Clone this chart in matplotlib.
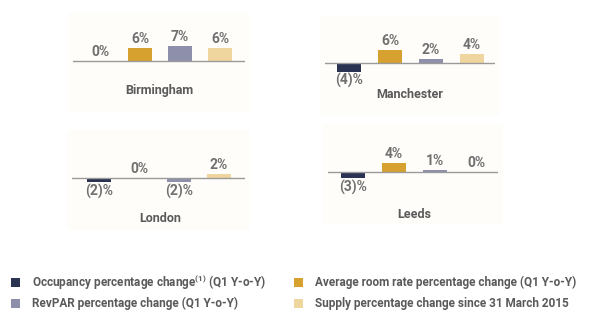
import matplotlib
matplotlib.use("Agg")
import matplotlib.pyplot as plt
from matplotlib.patches import Rectangle

plt.rcParams['font.family'] = ['Roboto', 'DejaVu Sans']

cities = ["Birmingham", "Manchester", "London", "Leeds"]
occupancy = [0, -4, -2, -3]
avg_rate = [6, 6, 0, 4]
revpar = [7, 2, -2, 1]
supply = [6, 4, 2, 0]
series_names = ["Occupancy percentage change$^{\\mathregular{(1)}}$ (Q1 Y-o-Y)",
                "Average room rate percentage change (Q1 Y-o-Y)",
                "RevPAR percentage change (Q1 Y-o-Y)",
                "Supply percentage change since 31 March 2015"]
colors = ["#2b3352", "#d6a12f", "#8e8fab", "#efd69e"]

W, H = 600, 326
fig = plt.figure(figsize=(6, 3.26), dpi=100)
fig.patch.set_facecolor("white")

# panel geometry in pixels: (axis_y, x_left, x_right, first bar center, spacing, title_y, title_x)
panels = [
    (61, 73, 245, 100, 40, 91, 159),
    (63, 325, 495, 349, 41, 95, 410),
    (178, 72, 245, 99, 40, 218, 160),
    (172, 328, 498, 353, 41, 215, 414),
]
PX_PER_PCT = 2.15
HALF = 30  # pixels above/below axis line

def fx(px):
    return px / W

def fy(py):
    return 1 - py / H

bg = fig.add_axes([0, 0, 1, 1])
bg.set_xlim(0, W); bg.set_ylim(H, 0); bg.axis("off")
for (ay, xl, xr, c0, sp, ty, tx) in panels:
    bg.add_patch(Rectangle((xl - 5, ay - 48), (xr - xl) + 10, 100,
                           facecolor="#fefdfa", edgecolor="none", zorder=0))

for i, (ay, xl, xr, c0, sp, ty, tx) in enumerate(panels):
    ax = fig.add_axes([fx(xl), fy(ay + HALF), fx(xr - xl), (2 * HALF) / H])
    ax.patch.set_alpha(0)
    vals = [occupancy[i], avg_rate[i], revpar[i], supply[i]]
    xs = list(range(4))
    width = 24 / sp
    ax.bar(xs, vals, width=width, color=colors, zorder=2)
    ax.set_xlim(-(c0 - xl) / sp, -(c0 - xl) / sp + (xr - xl) / sp)
    lim = HALF / PX_PER_PCT
    ax.set_ylim(-lim, lim)
    ax.axhline(0, color="#9a9a9a", lw=1.0, zorder=3)
    ax.axis("off")
    for x, v in zip(xs, vals):
        if v >= 0:
            ax.annotate(f"{v}%", (x, v), xytext=(0, 1.5), textcoords="offset points",
                        ha="center", va="bottom", fontsize=10, fontweight="bold",
                        color="#707070")
        else:
            ax.annotate(f"({-v})%", (x, v), xytext=(0, -1), textcoords="offset points",
                        ha="center", va="top", fontsize=10, fontweight="bold",
                        color="#707070")
    fig.text(fx(tx), fy(ty), cities[i], ha="center", va="center",
             fontsize=9, color="#5a5a5a", fontweight="bold")

leg = [(15, 282, 0), (298, 282, 1), (15, 303, 2), (298, 303, 3)]
for (lx, ly, k) in leg:
    bg.add_patch(Rectangle((lx - 4, ly - 4), 9, 9, facecolor=colors[k], edgecolor="none"))
    bg.text(lx + 17, ly, series_names[k], ha="left", va="center",
            fontsize=8.5, color="#5a5a5a", fontweight="bold")

fig.savefig("out.png", dpi=100, facecolor="white")
